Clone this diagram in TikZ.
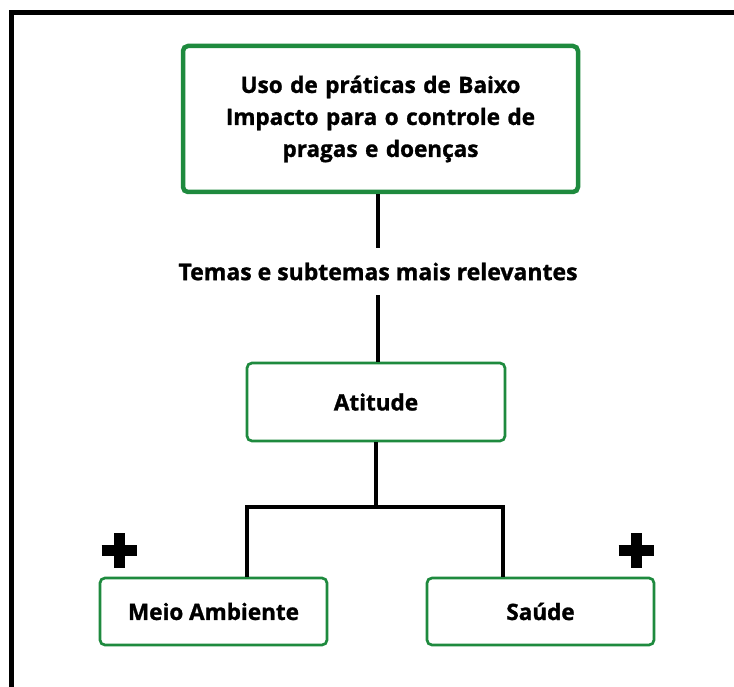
\documentclass[tikz,border=0pt]{standalone}
\usepackage{fontspec}
\setmainfont{Open Sans}[BoldFeatures={FakeBold=1.2}]
\usetikzlibrary{positioning}
\definecolor{boxgreen}{RGB}{30,138,62}

\begin{document}
\begin{tikzpicture}[x=1pt,y=-1pt]

        \useasboundingbox (0,0) rectangle (734,687);
        \clip (0,0) rectangle (734,687);
        \fill[white] (0,0) rectangle (734,687);
        \draw[line width=5pt] (11.5,13) rectangle (780,730);

        \begin{scope}[every node/.style={draw=boxgreen, rounded corners=5pt, align=center,
            font=\fontsize{22.5}{32}\selectfont\bfseries}]
          \node[line width=4.5pt, minimum width=395pt, minimum height=146pt, text width=370pt] (tema) at (380.5,119)
            {Uso de práticas de Baixo\\ Impacto para o controle de\\ pragas e doenças};
          \node[line width=2.7pt, minimum width=258pt, minimum height=78pt] (atitude) at (376,402) {Atitude};
          \node[line width=2.7pt, minimum width=227pt, minimum height=67pt] (meio) at (213.5,611.5) {Meio Ambiente};
          \node[line width=2.7pt, minimum width=227pt, minimum height=67pt] (saude) at (540.5,611.5) {Saúde};
        \end{scope}

        \node[minimum height=47pt, inner sep=0pt, font=\fontsize{23}{26}\selectfont\bfseries] (relev) at (378,271.5)
          {Temas e subtemas mais relevantes};

        \coordinate (split) at (376,507);
        \coordinate (esq) at (247,507);
        \coordinate (dir) at (503,507);

        \begin{scope}[line width=4pt]
          \draw (tema.south -| relev) -- (relev);
          \draw (relev) -- (atitude.north -| relev);
          \draw (atitude) -- (split);
          \draw[line cap=rect] (esq) -- (dir);
          \draw (esq) -- (esq |- meio.north);
          \draw (dir) -- (dir |- saude.north);
        \end{scope}

        % sinais de mais
        \begin{scope}[line width=11pt, rounded corners=1pt]
          \node[inner sep=0pt] (mais1) at (119,550) {};
          \node[inner sep=0pt] (mais2) at (636,550) {};
          \draw ([xshift=-17.5pt]mais1.center) -- ([xshift=17.5pt]mais1.center);
          \draw ([yshift=-17.5pt]mais1.center) -- ([yshift=17.5pt]mais1.center);
          \draw ([xshift=-17.5pt]mais2.center) -- ([xshift=17.5pt]mais2.center);
          \draw ([yshift=-17.5pt]mais2.center) -- ([yshift=17.5pt]mais2.center);
        \end{scope}

      \end{tikzpicture}
\end{document}
